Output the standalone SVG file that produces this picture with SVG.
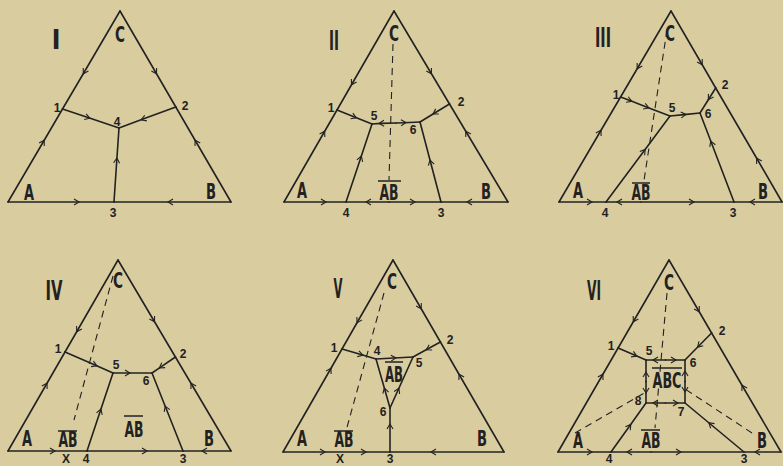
<svg xmlns="http://www.w3.org/2000/svg" width="783" height="466" viewBox="0 0 783 466">
<style>
.e{fill:none;stroke:#222;stroke-width:1.6;stroke-linecap:round;stroke-linejoin:round;marker-mid:url(#ar)}
.d{fill:none;stroke:#222;stroke-width:1.1;stroke-dasharray:7 5}
.bar{stroke:#222;stroke-width:1.5}
.v{font-family:"Liberation Sans Narrow","DejaVu Sans Condensed","Liberation Sans",sans-serif;font-stretch:condensed;font-weight:bold;font-size:21px;text-anchor:middle;fill:#222}
.n{font-family:"Liberation Sans","DejaVu Sans",sans-serif;font-weight:bold;font-size:12px;text-anchor:middle;fill:#222}
.r{font-family:"Liberation Sans Narrow","DejaVu Sans Condensed","Liberation Sans",sans-serif;font-stretch:condensed;font-weight:bold;font-size:26px;text-anchor:middle;fill:#222}
</style>
<defs>
<marker id="ar" viewBox="-5 -4 10 8" markerWidth="10" markerHeight="8" markerUnits="userSpaceOnUse" orient="auto" overflow="visible">
<path d="M-3,-3 L2,0 L-3,3" fill="none" stroke="#222" stroke-width="1.1"/>
</marker>
</defs>
<rect width="783" height="466" fill="#d9cc9f"/>

<g id="panel-I">
<g id="conn-I">
<path class="e" d="M120,11 L84.3,72 L62.5,109"/>
<path class="e" d="M8,202 L43.2,142 L62.5,109"/>
<path class="e" d="M120,11 L155.5,72 L175.8,107"/>
<path class="e" d="M231,202 L196.1,142 L175.8,107"/>
<path class="e" d="M8,202 L77,202 L114,202"/>
<path class="e" d="M231,202 L170,202 L114,202"/>
<path class="e" d="M62.5,109 L88,117.6 L119,128"/>
<path class="e" d="M175.8,107 L143,119.1 L119,128"/>
<path class="e" d="M114,202 L116.8,160 L119,128"/>
</g>
<g id="labels-I">
<text class="r" x="56" y="49">I</text>
<text class="v" x="120" y="42" textLength="10" lengthAdjust="spacingAndGlyphs">C</text>
<text class="v" x="29" y="200" textLength="10" lengthAdjust="spacingAndGlyphs">A</text>
<text class="v" x="211" y="199" textLength="10" lengthAdjust="spacingAndGlyphs">B</text>
<text class="n" x="57" y="112">1</text>
<text class="n" x="185" y="110">2</text>
<text class="n" x="117" y="126">4</text>
<text class="n" x="113" y="217">3</text>
</g>
</g>

<g id="panel-II">
<g id="conn-II">
<path class="e" d="M394,11 L352.5,83 L337,110"/>
<path class="e" d="M284,202 L323.7,133 L337,110"/>
<path class="e" d="M394,11 L430.4,72 L449.5,104"/>
<path class="e" d="M508,202 L466.8,133 L449.5,104"/>
<path class="e" d="M284,202 L324,202 L346,202"/>
<path class="e" d="M389,202 L368,202 L346,202"/>
<path class="e" d="M389,202 L413,202 L441,202"/>
<path class="e" d="M508,202 L469,202 L441,202"/>
<path class="e" d="M337,110 L354.5,117 L372,124"/>
<path class="e" d="M449.5,104 L434.7,113 L420,122"/>
<path class="e" d="M396,123 L381,123.4 L372,124"/>
<path class="e" d="M396,123 L404,122.7 L420,122"/>
<path class="e" d="M346,202 L360.7,158 L372,124"/>
<path class="e" d="M441,202 L430.5,162 L420,122"/>
<path class="d" d="M393,44 L389,180"/>
</g>
<g id="labels-II">
<text class="r" x="334" y="50" textLength="10" lengthAdjust="spacingAndGlyphs">II</text>
<text class="v" x="394" y="41" textLength="10" lengthAdjust="spacingAndGlyphs">C</text>
<text class="v" x="302" y="198" textLength="10" lengthAdjust="spacingAndGlyphs">A</text>
<text class="v" x="486" y="199" textLength="10" lengthAdjust="spacingAndGlyphs">B</text>
<text class="v" x="389" y="200" textLength="19" lengthAdjust="spacingAndGlyphs">AB</text>
<line class="bar" x1="378" y1="181" x2="401" y2="181"/>
<text class="n" x="331" y="112">1</text>
<text class="n" x="461" y="106">2</text>
<text class="n" x="374" y="120">5</text>
<text class="n" x="413" y="134">6</text>
<text class="n" x="346" y="217">4</text>
<text class="n" x="441" y="217">3</text>
</g>
</g>

<g id="panel-III">
<g id="conn-III">
<path class="e" d="M671,11 L638.2,67 L620.6,97"/>
<path class="e" d="M559,202 L600,132 L620.6,97"/>
<path class="e" d="M671,11 L701.2,63 L715.7,88"/>
<path class="e" d="M782,202 L757.7,160 L715.7,88"/>
<path class="e" d="M559,202 L590,202 L606,202"/>
<path class="e" d="M641,202 L619,202 L606,202"/>
<path class="e" d="M641,202 L692,202 L734,202"/>
<path class="e" d="M782,202 L752,202 L734,202"/>
<path class="e" d="M620.6,97 L630,100.6 L647,107.2 L670,116"/>
<path class="e" d="M670,116 L684,114.6 L700,113"/>
<path class="e" d="M715.7,88 L709.4,98 L700,113"/>
<path class="e" d="M606,202 L644,151 L670,116"/>
<path class="e" d="M734,202 L711.5,143 L700,113"/>
<path class="d" d="M667,30 L643,187"/>
</g>
<g id="labels-III">
<text class="r" x="603" y="47" textLength="16" lengthAdjust="spacingAndGlyphs">III</text>
<text class="v" x="670" y="41" textLength="10" lengthAdjust="spacingAndGlyphs">C</text>
<text class="v" x="578" y="198" textLength="10" lengthAdjust="spacingAndGlyphs">A</text>
<text class="v" x="763" y="199" textLength="10" lengthAdjust="spacingAndGlyphs">B</text>
<text class="v" x="641" y="200" textLength="19" lengthAdjust="spacingAndGlyphs">AB</text>
<line class="bar" x1="632" y1="183" x2="650" y2="183"/>
<text class="n" x="616" y="99">1</text>
<text class="n" x="725" y="89">2</text>
<text class="n" x="672" y="112">5</text>
<text class="n" x="708" y="118">6</text>
<text class="n" x="605" y="217">4</text>
<text class="n" x="733" y="217">3</text>
</g>
</g>

<g id="panel-IV">
<g id="conn-IV">
<path class="e" d="M118,260 L77.7,330 L65,352"/>
<path class="e" d="M8,451 L46,385 L65,352"/>
<path class="e" d="M118,260 L153.5,320 L175.4,357"/>
<path class="e" d="M231,451 L192,385 L175.4,357"/>
<path class="e" d="M8,451 L53,451 L87,451"/>
<path class="e" d="M87,451 L145,451 L183,451"/>
<path class="e" d="M231,451 L204,451 L183,451"/>
<path class="e" d="M65,352 L95,365.1 L113,373"/>
<path class="e" d="M113,373 L128,373 L152,373"/>
<path class="e" d="M175.4,357 L161,366.8 L152,373"/>
<path class="e" d="M87,451 L100.3,411 L113,373"/>
<path class="e" d="M183,451 L165.9,408 L152,373"/>
<path class="d" d="M113,276 L74,420"/>
</g>
<g id="labels-IV">
<text class="r" x="54" y="300" textLength="17" lengthAdjust="spacingAndGlyphs">IV</text>
<text class="v" x="118" y="288" textLength="10" lengthAdjust="spacingAndGlyphs">C</text>
<text class="v" x="27" y="446" textLength="10" lengthAdjust="spacingAndGlyphs">A</text>
<text class="v" x="209" y="446" textLength="10" lengthAdjust="spacingAndGlyphs">B</text>
<text class="v" x="68" y="447" textLength="19" lengthAdjust="spacingAndGlyphs">AB</text>
<line class="bar" x1="58" y1="431" x2="77" y2="431"/>
<text class="v" x="134" y="437" textLength="19" lengthAdjust="spacingAndGlyphs">AB</text>
<line class="bar" x1="124" y1="416" x2="143" y2="416"/>
<text class="n" x="58" y="353">1</text>
<text class="n" x="183" y="358">2</text>
<text class="n" x="116" y="369">5</text>
<text class="n" x="146" y="385">6</text>
<text class="n" x="66" y="463">X</text>
<text class="n" x="86" y="463">4</text>
<text class="n" x="183" y="463">3</text>
</g>
</g>

<g id="panel-V">
<g id="conn-V">
<path class="e" d="M393,260 L358,321 L342,349"/>
<path class="e" d="M283,452 L330,370 L342,349"/>
<path class="e" d="M393,260 L420.2,307 L440.4,342"/>
<path class="e" d="M504,452 L460,376 L440.4,342"/>
<path class="e" d="M283,452 L323,452 L364,452 L390,452"/>
<path class="e" d="M504,452 L433,452 L390,452"/>
<path class="e" d="M342,349 L361,354.6 L376,359"/>
<path class="e" d="M376,359 L394,358 L413,357"/>
<path class="e" d="M440.4,342 L428,348.8 L413,357"/>
<path class="e" d="M390,408 L384.9,390 L376,359"/>
<path class="e" d="M390,408 L398.1,390 L413,357"/>
<path class="e" d="M390,452 L390,426 L390,408"/>
<path class="d" d="M384,293 L346,431"/>
</g>
<g id="labels-V">
<text class="r" x="338" y="298" textLength="9" lengthAdjust="spacingAndGlyphs">V</text>
<text class="v" x="392" y="289" textLength="10" lengthAdjust="spacingAndGlyphs">C</text>
<text class="v" x="302" y="446" textLength="10" lengthAdjust="spacingAndGlyphs">A</text>
<text class="v" x="482" y="446" textLength="10" lengthAdjust="spacingAndGlyphs">B</text>
<text class="v" x="344" y="447" textLength="19" lengthAdjust="spacingAndGlyphs">AB</text>
<line class="bar" x1="334" y1="431" x2="353" y2="431"/>
<text class="v" x="394" y="382" textLength="18" lengthAdjust="spacingAndGlyphs">AB</text>
<line class="bar" x1="385" y1="362" x2="403" y2="362"/>
<text class="n" x="334" y="352">1</text>
<text class="n" x="450" y="344">2</text>
<text class="n" x="377" y="355">4</text>
<text class="n" x="419" y="367">5</text>
<text class="n" x="383" y="416">6</text>
<text class="n" x="340" y="463">X</text>
<text class="n" x="390" y="463">3</text>
</g>
</g>

<g id="panel-VI">
<g id="conn-VI">
<path class="e" d="M669,260 L634.3,320 L618.1,348"/>
<path class="e" d="M558,452 L601.9,376 L618.1,348"/>
<path class="e" d="M669,260 L698.2,310 L711.6,333"/>
<path class="e" d="M781,452 L743,387 L711.6,333"/>
<path class="e" d="M558,452 L590,452 L611,452"/>
<path class="e" d="M651,452 L629,452 L611,452"/>
<path class="e" d="M651,452 L679,452 L744,452"/>
<path class="e" d="M781,452 L757,452 L744,452"/>
<path class="e" d="M618.1,348 L635,355.3 L646,360"/>
<path class="e" d="M711.6,333 L699,345.7 L685,360"/>
<path class="e" d="M665.5,360 L655,360 L646,360"/>
<path class="e" d="M665.5,360 L674,360 L685,360"/>
<path class="e" d="M685,381.5 L685,373 L685,360"/>
<path class="e" d="M685,381.5 L685,390 L685,403"/>
<path class="e" d="M646,381.5 L646,374 L646,360"/>
<path class="e" d="M646,381.5 L646,391 L646,403"/>
<path class="e" d="M665.5,403 L655,403 L646,403"/>
<path class="e" d="M665.5,403 L676,403 L685,403"/>
<path class="e" d="M611,452 L629.6,426 L646,403"/>
<path class="e" d="M744,452 L710.3,424 L685,403"/>
<path class="d" d="M667,293 L655,428"/>
<path class="d" d="M575,433 L646,392"/>
<path class="d" d="M752,433 L685,389"/>
</g>
<g id="labels-VI">
<text class="r" x="594" y="300" textLength="14" lengthAdjust="spacingAndGlyphs">VI</text>
<text class="v" x="669" y="290" textLength="10" lengthAdjust="spacingAndGlyphs">C</text>
<text class="v" x="578" y="448" textLength="10" lengthAdjust="spacingAndGlyphs">A</text>
<text class="v" x="762" y="448" textLength="10" lengthAdjust="spacingAndGlyphs">B</text>
<text class="v" x="651" y="448" textLength="19" lengthAdjust="spacingAndGlyphs">AB</text>
<line class="bar" x1="641" y1="430" x2="660" y2="430"/>
<text class="v" x="667" y="388" textLength="29" lengthAdjust="spacingAndGlyphs">ABC</text>
<line class="bar" x1="652" y1="368" x2="682" y2="368"/>
<text class="n" x="611" y="350">1</text>
<text class="n" x="722" y="335">2</text>
<text class="n" x="649" y="355">5</text>
<text class="n" x="693" y="367">6</text>
<text class="n" x="681" y="416">7</text>
<text class="n" x="638" y="405">8</text>
<text class="n" x="609" y="463">4</text>
<text class="n" x="744" y="463">3</text>
</g>
</g>
</svg>
